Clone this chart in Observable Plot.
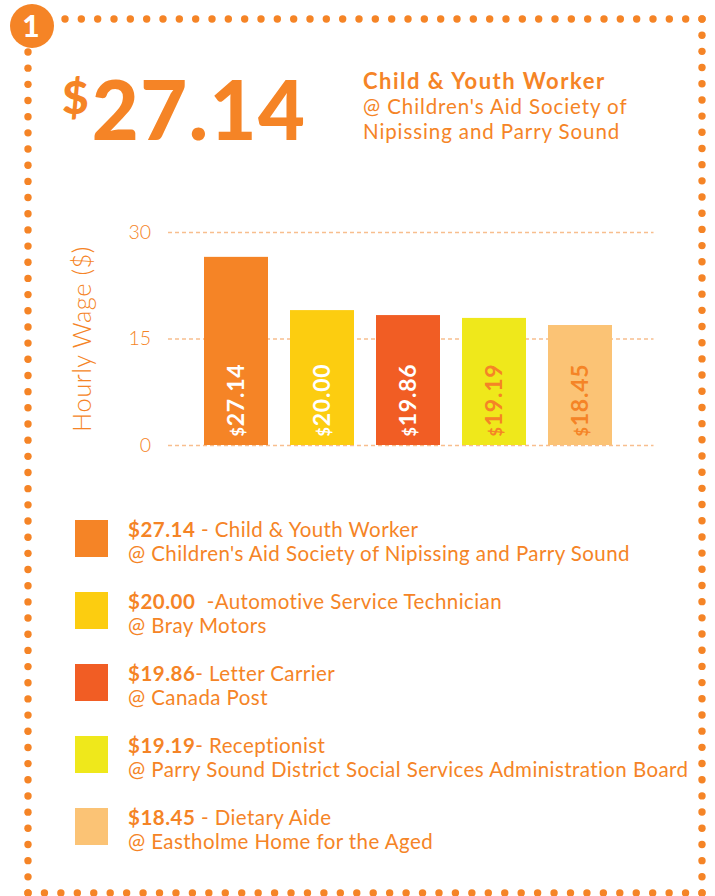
<!DOCTYPE html>
<html>
<head>
<meta charset="utf-8">
<script src="https://cdn.jsdelivr.net/npm/d3@7"></script>
<script src="https://cdn.jsdelivr.net/npm/@observablehq/plot@0.6"></script>
<style>
  html, body { margin: 0; padding: 0; background: #fff; }
  #page { position: relative; width: 715px; height: 896px; overflow: hidden; font-family: Lato, "Open Sans", sans-serif; color: #F58426; }
  #border { position: absolute; left: 0; top: 0; }
  #big { position: absolute; left: 62px; top: 68px; font-weight: 900; line-height: 1; white-space: nowrap; }
  #big .dol { font-size: 46px; vertical-align: top; position: relative; top: 6px; margin-right: 3px; }
  #big .num { font-size: 81px; letter-spacing: 1.5px; }
  #head { position: absolute; left: 363px; top: 68px; white-space: nowrap; }
  #head .t { font-weight: 700; font-size: 22px; line-height: 26px; letter-spacing: 1.5px; }
  #head .s { font-weight: 400; font-size: 20.5px; line-height: 25px; letter-spacing: 0.9px; }
  #chart { position: absolute; left: 0; top: 200px; }
  #legend { position: absolute; left: 75px; top: 517px; }
  .item { position: relative; height: 72px; }
  .sw { position: absolute; left: 0; top: 3px; width: 33px; height: 37px; }
  .lt { position: absolute; left: 53px; top: 0; font-size: 20.5px; line-height: 24px; white-space: nowrap; font-weight: 400; letter-spacing: 0.42px; }
  .lt b { font-weight: 700; letter-spacing: 0.5px; }
</style>
</head>
<body>
<div id="page">
  <svg id="border" width="715" height="896"></svg>
  <div id="big"><span class="dol">$</span><span class="num">27.14</span></div>
  <div id="head">
    <div class="t">Child &amp; Youth Worker</div>
    <div class="s">@ Children's Aid Society of</div>
    <div class="s">Nipissing and Parry Sound</div>
  </div>
  <div id="chart"></div>
  <div id="legend"></div>
</div>
<script>
// ---- data ----
const jobs = ["Child & Youth Worker", "Automotive Service Technician", "Letter Carrier", "Receptionist", "Dietary Aide"];
const employers = ["Children's Aid Society of Nipissing and Parry Sound", "Bray Motors", "Canada Post", "Parry Sound District Social Services Administration Board", "Eastholme Home for the Aged"];
const wageLabels = ["27.14", "20.00", "19.86", "19.19", "18.45"];
const barHeights = [26.5, 19.0, 18.3, 17.9, 16.9]; // heights as drawn in the picture
const legendSeparators = [" - ", "  -", "- ", "- ", " - "];
const colors = ["#F58426", "#FCCD10", "#F15D24", "#EFE81B", "#FBC375"];
const labelColors = ["#ffffff", "#ffffff", "#ffffff", "#F58426", "#F58426"];
const yTicks = [0, 15, 30];
const yLabel = "Hourly Wage ($)";

const ORANGE = "#F58426";

// ---- dotted border ----
const border = d3.select("#border");
function dotLine(x1, y1, x2, y2, n) {
  for (let i = 0; i <= n; i++) {
    border.append("circle")
      .attr("cx", x1 + (x2 - x1) * i / n)
      .attr("cy", y1 + (y2 - y1) * i / n)
      .attr("r", 3.7).attr("fill", ORANGE);
  }
}
dotLine(65, 19, 702, 19, 39);
dotLine(702, 19, 702, 893, 54);
dotLine(28, 893, 702, 893, 41);
dotLine(28, 52, 28, 893, 52);
border.append("circle").attr("cx", 32).attr("cy", 26).attr("r", 22).attr("fill", ORANGE);
border.append("text").attr("x", 31).attr("y", 37).attr("text-anchor", "middle")
  .attr("fill", "#fff").attr("font-family", "Lato, sans-serif").attr("font-weight", 900)
  .attr("font-size", 30).text("1");

// ---- chart ----
const data = jobs.map((j, i) => ({job: j, h: barHeights[i], label: "$" + wageLabels[i], color: colors[i], lc: labelColors[i]}));

const chart = Plot.plot({
  width: 715,
  height: 260,
  marginTop: 32,
  marginBottom: 15,
  marginLeft: 180.5,
  marginRight: 79.5,
  style: {fontFamily: "Lato, sans-serif", background: "transparent", color: ORANGE, overflow: "visible"},
  x: {domain: jobs, padding: 0.26, axis: null},
  y: {domain: [0, 30]},
  marks: [
    Plot.ruleY(yTicks, {stroke: "#F8BE8E", strokeWidth: 1.5, strokeDasharray: "4,3", insetLeft: -12.5, insetRight: -18}),
    Plot.barY(data, {x: "job", y: "h", fill: "color"}),
    Plot.text(data, {x: "job", y: 0, text: "label", fill: "lc", rotate: -90, textAnchor: "start", lineAnchor: "middle", dy: -9, fontSize: 23, fontWeight: 700, className: "barlab"}),
    Plot.axisY({ticks: yTicks, tickSize: 0, tickPadding: 30, fontSize: 19.5, fontWeight: 300, fill: ORANGE,
      label: yLabel, labelAnchor: "center", labelArrow: "none", labelOffset: 108})
  ]
});
document.getElementById("chart").appendChild(chart);
// style axis label & small "$" in bar labels
d3.select(chart).selectAll("g[aria-label='y-axis label'] text").attr("font-size", 25.5).attr("font-weight", 300).attr("letter-spacing", "0.5px");
d3.select(chart).selectAll(".barlab text").attr("letter-spacing", "0.8px").each(function() {
  const t = this.textContent;
  const el = d3.select(this);
  el.text("");
  el.append("tspan").attr("font-size", "0.7em").text(t.slice(0, 1));
  el.append("tspan").text(t.slice(1));
});

// ---- legend ----
const legend = d3.select("#legend");
jobs.forEach((j, i) => {
  const it = legend.append("div").attr("class", "item");
  it.append("div").attr("class", "sw").style("background", colors[i]);
  const lt = it.append("div").attr("class", "lt");
  lt.append("div").html(`<b>$${wageLabels[i]}</b>${legendSeparators[i].replace(/ /g, "&nbsp;")}${j}`);
  lt.append("div").text("@ " + employers[i]);
});
</script>
</body>
</html>
